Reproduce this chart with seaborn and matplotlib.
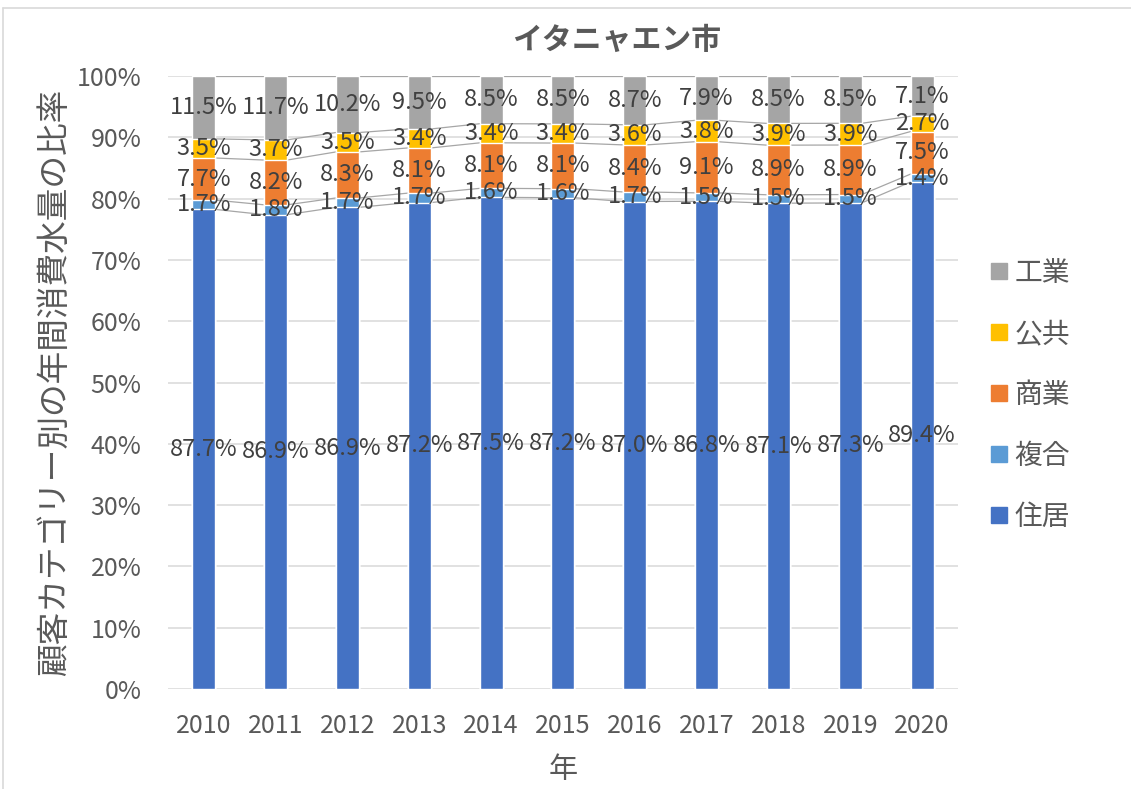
import pandas as pd
import matplotlib.pyplot as plt
import seaborn as sns
from matplotlib.lines import Line2D

# Data (raw label values, chart shows them as 100% stacked)
years = ["2010", "2011", "2012", "2013", "2014", "2015", "2016", "2017", "2018", "2019", "2020"]
residential = [87.7, 86.9, 86.9, 87.2, 87.5, 87.2, 87.0, 86.8, 87.1, 87.3, 89.4]
mixed = [1.7, 1.8, 1.7, 1.7, 1.6, 1.6, 1.7, 1.5, 1.5, 1.5, 1.4]
commercial = [7.7, 8.2, 8.3, 8.1, 8.1, 8.1, 8.4, 9.1, 8.9, 8.9, 7.5]
public = [3.5, 3.7, 3.5, 3.4, 3.4, 3.4, 3.6, 3.8, 3.9, 3.9, 2.7]
industrial = [11.5, 11.7, 10.2, 9.5, 8.5, 8.5, 8.7, 7.9, 8.5, 8.5, 7.1]

categories = ["住居", "複合", "商業", "公共", "工業"]  # bottom -> top
colors = {"住居": "#4472C4", "複合": "#5B9BD5", "商業": "#ED7D31",
          "公共": "#FFC000", "工業": "#A5A5A5"}

wide = pd.DataFrame({"住居": residential, "複合": mixed, "商業": commercial,
                     "公共": public, "工業": industrial}, index=years)
share = wide.div(wide.sum(axis=1), axis=0) * 100
top = share.cumsum(axis=1)
bottom = top - share

sns.set_style("white")
plt.rcParams["font.family"] = ["Noto Sans CJK JP", "DejaVu Sans"]

fig = plt.figure(figsize=(11.31, 7.89), dpi=100)
ax = fig.add_axes([0.1485, 0.1267, 0.847 - 0.1485, 0.9037 - 0.1267])

bar_w = 0.32
# draw cumulative layers from the top one down so lower layers cover
for cat in categories[::-1]:
    layer = pd.DataFrame({"year": years, "top": top[cat].values})
    sns.barplot(data=layer, x="year", y="top", color=colors[cat], width=bar_w,
                saturation=1, errorbar=None, ax=ax, zorder=2)

# series lines between bars
for cat in categories:
    vals = top[cat].values
    for i in range(len(years) - 1):
        ax.plot([i + bar_w / 2, i + 1 - bar_w / 2], [vals[i], vals[i + 1]],
                color="#A6A6A6", lw=0.9, zorder=1.5)

# data labels
for cat in categories:
    for i, y in enumerate(years):
        ax.text(i, bottom.loc[y, cat] + share.loc[y, cat] / 2,
                f"{wide.loc[y, cat]:.1f}%", ha="center", va="center",
                fontsize=17, color="#404040", zorder=3)

ax.set_xlim(-0.5, len(years) - 0.5)
ax.set_ylim(0, 100)
ax.set_yticks(range(0, 101, 10))
ax.set_yticklabels([f"{t}%" for t in range(0, 101, 10)])
ax.yaxis.grid(True, color="#D9D9D9", lw=1.1)
ax.set_axisbelow(True)
for s in ["top", "right", "left", "bottom"]:
    ax.spines[s].set_visible(False)
ax.tick_params(axis="both", length=0, labelsize=18, colors="#595959")
ax.tick_params(axis="y", pad=19)
ax.tick_params(axis="x", pad=17)

ax.set_xlabel("年", fontsize=21, color="#595959", labelpad=12)
ax.set_ylabel("顧客カテゴリー別の年間消費水量の比率", fontsize=23.5, color="#595959", labelpad=4)
fig.text(0.545, 0.949, "イタニャエン市", ha="center", va="center",
         fontsize=21.5, fontweight="bold", color="#595959")

handles = [Line2D([], [], marker="s", ls="", markersize=11, color=colors[c])
           for c in categories[::-1]]
leg = fig.legend(handles, categories[::-1], loc="upper left",
                 bbox_to_anchor=(0.849, 0.705), frameon=False, fontsize=20,
                 labelspacing=1.12, handletextpad=0.05, handlelength=1.0)
for t in leg.get_texts():
    t.set_color("#595959")

# chart area border
fig.add_artist(Line2D([0.003, 1.0], [0.99, 0.99], color="#D9D9D9", lw=1.2, transform=fig.transFigure))
fig.add_artist(Line2D([0.003, 0.003], [0.0, 0.99], color="#D9D9D9", lw=1.2, transform=fig.transFigure))

fig.savefig("out.png", dpi=100)
